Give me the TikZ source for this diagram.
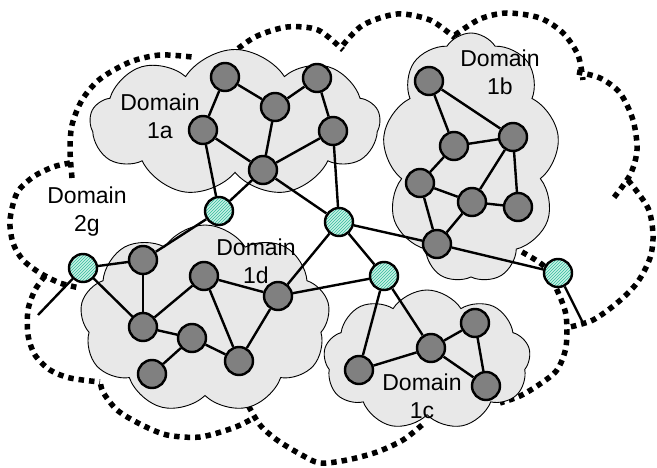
\documentclass[tikz,border=0pt]{standalone}
\usepackage{fontspec}
\setmainfont{Liberation Sans}
\usetikzlibrary{shapes.symbols,patterns}
\definecolor{cloudgray}{RGB}{232,232,232}
\definecolor{nodegray}{RGB}{128,128,128}
\definecolor{tealbg}{RGB}{200,242,230}
\definecolor{tealline}{RGB}{50,185,155}
\tikzset{
  router/.style={circle,draw,line width=2.4pt,fill=nodegray,minimum size=28pt,inner sep=0pt},
  border/.style={circle,draw,line width=2.4pt,preaction={fill=tealbg},pattern=north east lines,pattern color=tealline,minimum size=28pt,inner sep=0pt},
  domaincloud/.style={cloud,cloud puffs=9,cloud puff arc=115,draw,line width=0.9pt,fill=cloudgray,inner sep=0pt},
  domainname/.style={align=center,font=\fontsize{23}{28}\selectfont},
  outline/.style={line width=5.5pt,dash pattern=on 5.5pt off 5pt}
}
\begin{document}
\begin{tikzpicture}[x=1pt,y=-1pt]
      \useasboundingbox (0,0) rectangle (657,468);
      \begin{scope}[outline]
        \draw plot[smooth] coordinates {(72,178) (70,150) (72,125) (82,100) (100,79) (130,62) (160,55) (192,57)};
        \draw plot[smooth] coordinates {(230,55) (255,37) (287,27) (318,30) (343,50)};
        \draw plot[smooth] coordinates {(343,45) (363,25) (397,14) (430,20) (455,38)};
        \draw plot[smooth] coordinates {(455,35) (480,19) (507,13) (540,18) (563,33) (578,55) (583,80)};
        \draw plot[smooth] coordinates {(577,72) (600,78) (620,93) (633,120) (637,150) (630,175) (612,200)};
        \draw plot[smooth] coordinates {(628,180) (648,208) (653,235) (650,258) (637,283) (617,303) (593,320) (570,327)};
        \draw plot[smooth] coordinates {(522,252) (545,267) (557,290) (566,315) (566,347) (557,370) (540,384) (520,396) (500,403)};
        \draw plot[smooth] coordinates {(422,425) (403,440) (377,452) (347,460) (320,463) (300,454) (277,440) (260,425) (248,405)};
        \draw plot[smooth] coordinates {(250,420) (233,428) (200,437) (167,435) (140,424) (117,410) (103,392) (100,380)};
        \draw plot[smooth] coordinates {(45,276) (35,290) (28,310) (28,335) (35,355) (50,370) (70,378) (100,382)};
        \draw plot[smooth] coordinates {(70,163) (53,167) (33,177) (17,193) (10,220) (13,243) (23,260) (40,273) (60,283) (80,288)};
      \end{scope}
      \node[domaincloud,minimum width=290pt,minimum height=147pt,aspect=2] (cloud1a) at (235,123) {};
      \node[domaincloud,minimum width=177pt,minimum height=250pt,aspect=0.7] (cloud1b) at (471,158) {};
      \node[domaincloud,minimum width=250pt,minimum height=188pt,aspect=1.33] (cloud1d) at (205,319) {};
      \node[domaincloud,minimum width=207pt,minimum height=140pt,aspect=1.48] (cloud1c) at (427,360) {};
      \node[domainname] (name1a) at (160,116) {Domain\\1a};
      \node[domainname] (name1b) at (500,72) {Domain\\1b};
      \node[domainname] (name2g) at (87,212) {Domain\\2g};
      \node[domainname] (name1d) at (256,261) {Domain\\1d};
      \node[domainname] (name1c) at (422,396) {Domain\\1c};
      \coordinate (end4) at (38,315);
      \coordinate (end5) at (583,323);
      \draw
        (225,77) node[router] (a1){}
        (275,107) node[router] (a2){}
        (317,78) node[router] (a3){}
        (203,130) node[router] (a4){}
        (333,131) node[router] (a5){}
        (263,170) node[router] (a6){}
        (429,81) node[router] (b1){}
        (513,137) node[router] (b2){}
        (454,146) node[router] (b3){}
        (420,183) node[router] (b4){}
        (472,202) node[router] (b5){}
        (518,207) node[router] (b6){}
        (437,244) node[router] (b7){}
        (143,260) node[router] (d1){}
        (204,276) node[router] (d2){}
        (143,327) node[router] (d3){}
        (192,338) node[router] (d4){}
        (278,296) node[router] (d5){}
        (239,361) node[router] (d6){}
        (152,374) node[router] (d7){}
        (359,370) node[router] (c1){}
        (431,348) node[router] (c2){}
        (475,323) node[router] (c3){}
        (486,386) node[router] (c4){}
        (219,211) node[border] (t1){}
        (339,222) node[border] (t2){}
        (384,276) node[border] (t3){}
        (83,268) node[border] (t4){}
        (558,273) node[border] (t5){};
      \begin{scope}[line width=2.4pt]
        \draw (a1) to (a2);
        \draw (a2) to (a3);
        \draw (a1) to (a4);
        \draw (a3) to (a5);
        \draw (a2) to (a6);
        \draw (a4) to (a6);
        \draw (a6) to (a5);
        \draw (a4) to (t1);
        \draw (a6) to (t1);
        \draw (a6) to (t2);
        \draw (a5) to (t2);
        \draw (b1) to (b2);
        \draw (b1) to (b3);
        \draw (b3) to (b2);
        \draw (b3) to (b4);
        \draw (b4) to (b5);
        \draw (b2) to (b5);
        \draw (b2) to (b6);
        \draw (b5) to (b6);
        \draw (b4) to (b7);
        \draw (b5) to (b7);
        \draw (b7) to (t2);
        \draw (b7) to (t5);
        \draw (t1) to (d1);
        \draw (t4) to (d1);
        \draw (t4) to (d3);
        \draw (d1) to (d3);
        \draw (d3) to (d2);
        \draw (d3) to (d4);
        \draw (d2) to (d5);
        \draw (d2) to (d6);
        \draw (d4) to (d6);
        \draw (d4) to (d7);
        \draw (d6) to (d5);
        \draw (d5) to (t2);
        \draw (d5) to (t3);
        \draw (t2) to (t3);
        \draw (t3) to (c1);
        \draw (t3) to (c2);
        \draw (c1) to (c2);
        \draw (c2) to (c3);
        \draw (c2) to (c4);
        \draw (c3) to (c4);
        \draw (t4) to (end4);
        \draw (t5) to (end5);
      \end{scope}
    \end{tikzpicture}
\end{document}
